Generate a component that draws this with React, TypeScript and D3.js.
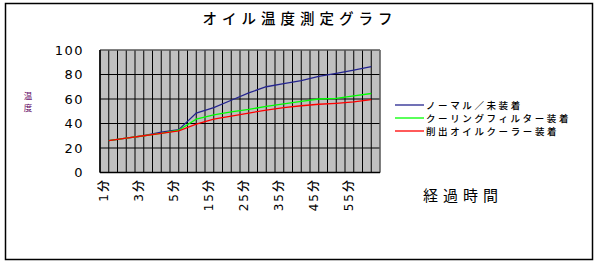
import React from "react";
import * as d3 from "d3";

const categories = ["1分", "2分", "3分", "4分", "5分", "10分", "15分", "20分", "25分", "30分", "35分", "40分", "45分", "50分", "55分", "60分"];
const shownLabels = ["1分", "3分", "5分", "15分", "25分", "35分", "45分", "55分"];
const normal = [26, 28, 30, 33, 35, 48.5, 53, 59, 65, 70, 72.5, 75, 78.5, 81, 83.5, 86.5];
const coolingFilter = [26, 28, 30, 32, 34.5, 43.5, 47, 49.5, 51.5, 54, 56, 58, 60, 60.5, 62.5, 64.5];
const oilCooler = [26, 28, 30, 32, 34, 39.5, 43.5, 46, 48.5, 51, 53, 54.5, 55.7, 56.5, 57.6, 59.5];
const yTicks = [0, 20, 40, 60, 80, 100];
const seriesNames = ["ノーマル／未装着", "クーリングフィルター装着", "削出オイルクーラー装着"];
const seriesColors = ["#24248f", "#00ff00", "#ff0000"];

const FONT = "'DejaVu Sans', 'Noto Sans CJK JP', sans-serif";
const JFONT = "'Noto Sans CJK JP', sans-serif";

export default function App() {
  const W = 600, H = 264;
  const left = 100, right = 380, top = 50, bottom = 172.5;
  const x = d3.scaleBand<string>().domain(categories).range([left, right]).padding(0);
  const y = d3.scaleLinear().domain([0, 100]).range([bottom, top]);
  const bw = x.bandwidth();
  const cx = (c: string) => (x(c) as number) + bw / 2;
  const line = d3.line<number>().x((_, i) => cx(categories[i])).y((v) => y(v));
  const series = [normal, coolingFilter, oilCooler];
  const vGrid = d3.range(0, categories.length * 2 + 1).map((i) => left + (i * bw) / 2);

  return (
    <svg width={W} height={H} style={{ position: "absolute", left: 0, top: 0, background: "#fff" }}>
      <rect x={5.5} y={3.5} width={587} height={256} fill="#fff" stroke="#000" strokeWidth={1.5} />
      <text x={300} y={24} textAnchor="middle" fontFamily={JFONT} fontSize={14.5} fontWeight={500} letterSpacing={5} fill="#000">
        オイル温度測定グラフ
      </text>
      <rect x={left} y={top} width={right - left} height={bottom - top} fill="#c0c0c0" />
      {vGrid.map((gx, i) => (
        <line key={"v" + i} x1={gx} x2={gx} y1={top} y2={bottom} stroke="#000" strokeWidth={1} />
      ))}
      {yTicks.map((t) => (
        <line key={"h" + t} x1={left} x2={right} y1={y(t)} y2={y(t)} stroke="#000" strokeWidth={1} />
      ))}
      <line x1={left} x2={right} y1={top} y2={top} stroke="#808080" strokeWidth={1} />
      <line x1={right} x2={right} y1={top} y2={bottom} stroke="#808080" strokeWidth={1} />
      <line x1={left} x2={left} y1={top} y2={bottom} stroke="#000" strokeWidth={1.5} />
      <line x1={left} x2={right} y1={bottom} y2={bottom} stroke="#000" strokeWidth={1.5} />
      {series.map((s, i) => (
        <path key={"s" + i} d={line(s) || ""} fill="none" stroke={seriesColors[i]} strokeWidth={1.3} />
      ))}
      {yTicks.map((t) => (
        <text key={"yt" + t} x={84} y={y(t)} dy="0.36em" textAnchor="end" fontFamily={FONT} fontSize={13} letterSpacing={1.5} fill="#000">
          {t}
        </text>
      ))}
      {shownLabels.map((c) => (
        <text
          key={"xl" + c}
          transform={`translate(${cx(c) - 5.5},${178}) rotate(-90)`}
          textAnchor="end"
          dy="0.36em"
          fontFamily={FONT}
          fontSize={12}
          fontWeight={500}
          letterSpacing={2}
          fill="#000"
        >
          {c}
        </text>
      ))}
      <text x={28} y={99} textAnchor="middle" fontFamily={JFONT} fontSize={8.5} fill="#600060">
        温
      </text>
      <text x={28} y={111} textAnchor="middle" fontFamily={JFONT} fontSize={8.5} fill="#600060">
        度
      </text>
      <text x={423} y={201} fontFamily={JFONT} fontSize={15} letterSpacing={5} fill="#000">
        経過時間
      </text>
      {seriesNames.map((n, i) => (
        <g key={"lg" + i}>
          <line x1={395} x2={424} y1={105 + i * 13} y2={105 + i * 13} stroke={seriesColors[i]} strokeWidth={1.3} />
          <text x={426} y={105 + i * 13} dy="0.38em" fontFamily={JFONT} fontSize={9.5} fontWeight={500} letterSpacing={2.6} fill="#000">
            {n}
          </text>
        </g>
      ))}
    </svg>
  );
}
